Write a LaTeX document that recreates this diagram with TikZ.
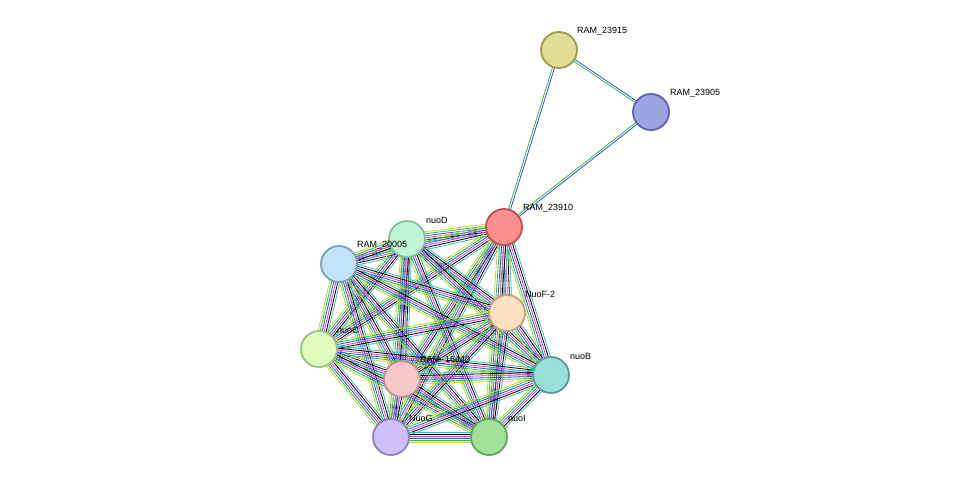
\documentclass[tikz,border=0pt]{standalone}
\usepackage{fontspec}
\setmainfont{Liberation Sans}
\usetikzlibrary{calc}
\definecolor{eyel}{HTML}{C0D840}
\definecolor{egrn}{HTML}{30C030}
\definecolor{eblu}{HTML}{3050F0}
\definecolor{emag}{HTML}{D040D0}
\definecolor{ecya}{HTML}{40B8C0}
\definecolor{f23915}{HTML}{E0DD94}\definecolor{d23915}{HTML}{A09A50}
\definecolor{f23905}{HTML}{9BA6E0}\definecolor{d23905}{HTML}{5A64A8}
\definecolor{f23910}{HTML}{FF8F8F}\definecolor{d23910}{HTML}{C05050}
\definecolor{fnuoD}{HTML}{C0F5D8}\definecolor{dnuoD}{HTML}{80C09A}
\definecolor{f20005}{HTML}{C0E4FA}\definecolor{d20005}{HTML}{7AA0C0}
\definecolor{fNuoF}{HTML}{FDE0C0}\definecolor{dNuoF}{HTML}{C0A080}
\definecolor{fnuoC}{HTML}{E0FAC0}\definecolor{dnuoC}{HTML}{A0C080}
\definecolor{f16440}{HTML}{F8C8C8}\definecolor{d16440}{HTML}{C09090}
\definecolor{fnuoB}{HTML}{98E0D8}\definecolor{dnuoB}{HTML}{50A098}
\definecolor{fNuoG}{HTML}{D0C0F8}\definecolor{dNuoG}{HTML}{9080C0}
\definecolor{fnuoI}{HTML}{A0E098}\definecolor{dnuoI}{HTML}{60A858}
\tikzset{
  prot/.style={circle, minimum size=36pt, inner sep=0pt, line width=1.8pt, fill=f#1, draw=d#1},
  lbl/.style={font=\fontsize{9}{10}\selectfont, anchor=south west, inner sep=1pt},
}
\newcommand{\edgeline}[4]{% a, b, offset, colour
  \draw[#4, line width=0.8pt] ($(#1)!#3!90:(#2)$) -- ($(#2)!#3!-90:(#1)$);}
\begin{document}
\begin{tikzpicture}[x=1pt,y=-1pt]
\useasboundingbox (0,0) rectangle (975,483);
% positions
\coordinate (p23915) at (559,50);
\coordinate (p23905) at (651,112);
\coordinate (p23910) at (504,227);
\coordinate (pnuoD) at (407,239);
\coordinate (p20005) at (339,264);
\coordinate (pNuoF) at (507,313);
\coordinate (pnuoC) at (319,349);
\coordinate (p16440) at (402,379);
\coordinate (pnuoB) at (551,375);
\coordinate (pNuoG) at (391,437);
\coordinate (pnuoI) at (489,437);
% triangle edges
\foreach \a/\b in {p23915/p23905, p23915/p23910, p23905/p23910} {
  \edgeline{\a}{\b}{-1pt}{egrn}
  \edgeline{\a}{\b}{1pt}{eblu}
}
% cluster edges
\foreach \a [count=\i] in {p23910,pnuoD,p20005,pNuoF,pnuoC,p16440,pnuoB,pNuoG,pnuoI} {
  \foreach \b [count=\j] in {p23910,pnuoD,p20005,pNuoF,pnuoC,p16440,pnuoB,pNuoG,pnuoI} {
    \ifnum\j>\i
      \edgeline{\a}{\b}{-5pt}{eyel}
      \edgeline{\a}{\b}{-3pt}{egrn}
      \edgeline{\a}{\b}{-1pt}{eblu}
      \edgeline{\a}{\b}{1pt}{emag}
      \edgeline{\a}{\b}{3pt}{black}
      \edgeline{\a}{\b}{5pt}{ecya}
    \fi
  }
}
% proteins
\foreach \n in {23915,23905,23910,nuoD,20005,NuoF,nuoC,16440,nuoB,NuoG,nuoI}
  \node[prot=\n] (n\n) at (p\n) {};
% labels
\node[lbl] at ($(n23915)+(17,-14)$) {RAM\_23915};
\node[lbl] at ($(n23905)+(18,-14)$) {RAM\_23905};
\node[lbl] at ($(n23910)+(18,-14)$) {RAM\_23910};
\node[lbl] at ($(nnuoD)+(18,-14)$) {nuoD};
\node[lbl] at ($(n20005)+(17,-14)$) {RAM\_20005};
\node[lbl] at ($(nNuoF)+(17,-14)$) {NuoF-2};
\node[lbl] at ($(nnuoC)+(17,-14)$) {nuoC};
\node[lbl] at ($(n16440)+(17,-14)$) {RAM\_16440};
\node[lbl] at ($(nnuoB)+(18,-14)$) {nuoB};
\node[lbl] at ($(nNuoG)+(17,-14)$) {NuoG};
\node[lbl] at ($(nnuoI)+(18,-14)$) {nuoI};
\end{tikzpicture}
\end{document}
